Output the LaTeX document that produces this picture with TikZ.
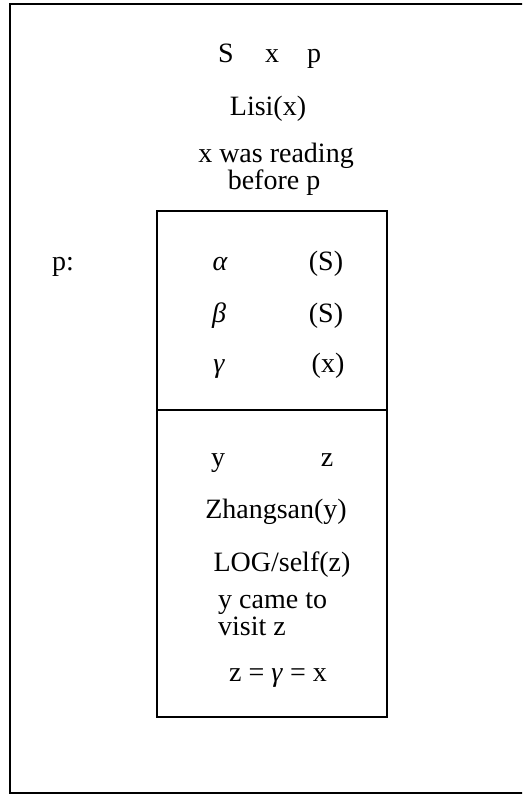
\documentclass[tikz,border=0pt]{standalone}
\usepackage{fontspec}
\setmainfont{Liberation Serif}
\begin{document}
\begin{tikzpicture}[x=1pt,y=-1pt,
  txt/.style={inner sep=0pt, font=\fontsize{28}{28}\selectfont},
  frameline/.style={line width=2.2pt, draw=black},
  boxline/.style={line width=2pt, draw=black}]
\useasboundingbox (0,0) rectangle (522,794);
\begin{scope}
\clip (0,0) rectangle (522,794);
\draw[frameline] (10,4) rectangle (530,793);
\end{scope}
% inner box
\draw[boxline] (157,211) rectangle (387,717);
\draw[boxline] (157,410) -- (387,410);
% top texts
\node[txt, anchor=base] (S) at (226,63) {S};
\node[txt, anchor=base] (x) at (272,63) {x};
\node[txt, anchor=base] (p) at (314,63) {p};
\node[txt, anchor=base] (lisi) at (268,116) {Lisi(x)};
\node[txt, anchor=base] (read1) at (276,163) {x was reading};
\node[txt, anchor=base] (read2) at (274,190) {before p};
\node[txt, anchor=base] (plabel) at (63,270) {p:};
% box rows
\node[txt, anchor=base] (alpha) at (220,270) {\itshape α};
\node[txt, anchor=base] (S1) at (326,270) {(S)};
\node[txt, anchor=base] (beta) at (219,322) {\itshape β};
\node[txt, anchor=base] (S2) at (326,322) {(S)};
\node[txt, anchor=base] (gamma) at (219,372) {\itshape γ};
\node[txt, anchor=base] (x2) at (328,372) {(x)};
% lower box
\node[txt, anchor=base] (yv) at (218,466) {y};
\node[txt, anchor=base] (zv) at (327,466) {z};
\node[txt, anchor=base] (zhang) at (276,518) {Zhangsan(y)};
\node[txt, anchor=base] (log) at (282,571) {LOG/self(z)};
\node[txt, anchor=base west] (came1) at (218,608) {y came to};
\node[txt, anchor=base west] (came2) at (218,635) {visit z};
\node[txt, anchor=base] (eq) at (278,681) {z = \textit{γ} = x};
\end{tikzpicture}
\end{document}
